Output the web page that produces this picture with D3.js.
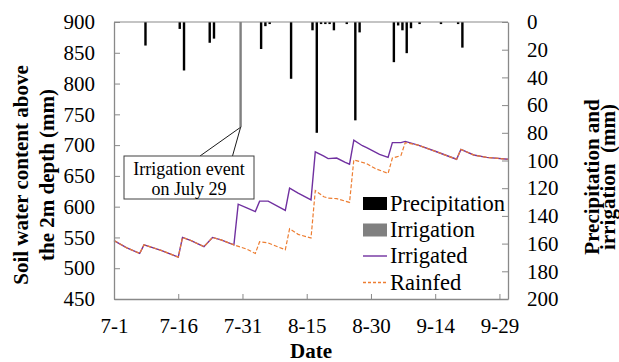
<!DOCTYPE html>
<html>
<head>
<meta charset="utf-8">
<script src="https://cdn.jsdelivr.net/npm/d3@7"></script>
<style>
  body { margin: 0; background: #fff; }
  svg { display: block; }
</style>
</head>
<body>
<div class="chart_area"></div>
<script>
var tickDays = [0, 15, 30, 45, 60, 75, 90];
var tickLabels = ["7-1", "7-16", "7-31", "8-15", "8-30", "9-14", "9-29"];

var precipDays = [7, 15, 16, 22, 23, 34, 35, 36, 41, 46, 47, 48, 49, 50, 51, 54, 56, 57, 65, 66, 67, 68, 69, 71, 76, 80, 81];
var precipMm   = [17, 5, 35, 15, 12, 19.5, 3, 1.5, 41, 6, 80, 1.5, 1.5, 1.5, 6, 1.5, 71, 7.5, 29, 2.5, 6, 22.5, 4.5, 1.5, 1.5, 1.5, 18.5];

var irrigDays = [29];
var irrigMm   = [76];

var irrigatedDays = [0, 3, 6, 7, 11, 15, 16, 18, 21, 23, 25, 28, 29, 31, 33, 34, 36, 40, 41, 43, 46, 47, 49, 50, 52, 54, 55, 56, 58, 59, 62, 64, 65, 67, 68, 71, 75, 80, 81, 84, 87, 92];
var irrigatedSwc  = [545, 533, 524, 538, 529, 518, 550, 545, 535, 550, 546, 538, 604, 598, 592, 609, 609, 594, 630, 622, 611, 689, 682, 678, 679, 672, 669, 708, 699, 696, 685, 680, 704, 704, 706, 700, 690, 677, 693, 684, 680, 677];

var rainfedDays = [0, 3, 6, 7, 11, 15, 16, 18, 21, 23, 25, 28, 31, 33, 34, 36, 40, 41, 43, 46, 47, 49, 50, 52, 55, 56, 59, 61, 64, 65, 66, 67, 68, 71, 75, 80, 81, 84, 87, 92];
var rainfedSwc  = [545, 533, 524, 538, 529, 518, 550, 545, 535, 550, 546, 538, 531, 524, 543, 541, 530, 564, 555, 549, 626, 616, 614, 613, 607, 676, 670, 662, 654, 679, 681, 683, 704, 700, 690, 677, 693, 684, 680, 677];

var legendLabels = ["Precipitation", "Irrigation", "Irrigated", "Rainfed"];

var W = 619, H = 362;
var margin = {top: 22, right: 111, bottom: 63, left: 114};
var axisColor = "#898989";
var serif = "Liberation Serif";

var svg = d3.select(".chart_area").append("svg")
    .attr("width", W)
    .attr("height", H);

var x = d3.scaleLinear().domain([0, 92]).range([margin.left, W - margin.right]);
var yL = d3.scaleLinear().domain([450, 900]).range([H - margin.bottom, margin.top]);
var yR = d3.scaleLinear().domain([0, 200]).range([margin.top, H - margin.bottom]);

// bars hanging from the top
var barW = 2.4;
svg.append("g").selectAll("rect")
    .data(precipDays.map(function(d, i) { return {day: d, v: precipMm[i]}; }))
    .enter().append("rect")
    .attr("x", function(d) { return x(d.day) + 0.3; })
    .attr("y", yR(0))
    .attr("width", barW)
    .attr("height", function(d) { return yR(d.v) - yR(0); })
    .attr("fill", "#000");

svg.append("g").selectAll("rect")
    .data(irrigDays.map(function(d, i) { return {day: d, v: irrigMm[i]}; }))
    .enter().append("rect")
    .attr("x", function(d) { return x(d.day) + 1.2; })
    .attr("y", yR(0))
    .attr("width", barW)
    .attr("height", function(d) { return yR(d.v) - yR(0); })
    .attr("fill", "#808080");

var line = d3.line()
    .x(function(d) { return x(d[0]); })
    .y(function(d) { return yL(d[1]); });

svg.append("path")
    .datum(irrigatedDays.map(function(d, i) { return [d, irrigatedSwc[i]]; }))
    .attr("fill", "none")
    .attr("stroke", "#7030A0")
    .attr("stroke-width", 1.4)
    .attr("d", line);

svg.append("path")
    .datum(rainfedDays.map(function(d, i) { return [d, rainfedSwc[i]]; }))
    .attr("fill", "none")
    .attr("stroke", "#ED7D31")
    .attr("stroke-width", 1.2)
    .attr("stroke-dasharray", "4,2")
    .attr("d", line);

// axes
var xAxis = svg.append("g")
    .attr("transform", "translate(0," + (H - margin.bottom) + ")")
    .call(d3.axisBottom(x).tickValues(tickDays)
        .tickFormat(function(d, i) { return tickLabels[i]; })
        .tickSize(-5).tickSizeOuter(0).tickPadding(19));

var yAxisL = svg.append("g")
    .attr("transform", "translate(" + margin.left + ",0)")
    .call(d3.axisLeft(yL).tickValues(d3.range(450, 901, 50))
        .tickSize(-6).tickSizeOuter(0).tickPadding(19));

var yAxisR = svg.append("g")
    .attr("transform", "translate(" + (W - margin.right) + ",0)")
    .call(d3.axisRight(yR).tickValues(d3.range(0, 201, 20))
        .tickSize(-6).tickSizeOuter(0).tickPadding(19));

svg.append("line")
    .attr("x1", margin.left).attr("x2", W - margin.right)
    .attr("y1", margin.top).attr("y2", margin.top)
    .attr("stroke", axisColor);

[xAxis, yAxisL, yAxisR].forEach(function(a) {
    a.select(".domain").attr("stroke", axisColor).attr("stroke-width", 1.3);
    a.selectAll(".tick line").attr("stroke", axisColor);
    a.selectAll("text")
        .attr("fill", "#000")
        .style("font-family", serif)
        .style("font-size", "21px");
});

// axis titles
function title(tx, ty, rot, str) {
    svg.append("text")
        .attr("transform", "translate(" + tx + "," + ty + ")" + (rot ? " rotate(-90)" : ""))
        .attr("text-anchor", "middle")
        .style("font-family", serif)
        .style("font-size", "21px")
        .style("font-weight", "bold")
        .style("white-space", "pre")
        .text(str);
}
title(28, 175, true, "Soil water content above");
title(54, 175, true, "the 2m depth (mm)");
title(599, 177, true, "Precipitation and");
title(615, 177, true, "irrigation  (mm)");
title(311, 358, false, "Date");

// legend
var leg = svg.append("g").attr("transform", "translate(363,0)");
var rowY = [203.5, 230, 256, 282.5];
leg.append("rect").attr("x", 0).attr("y", rowY[0] - 6.5).attr("width", 24).attr("height", 13).attr("fill", "#000");
leg.append("rect").attr("x", 0).attr("y", rowY[1] - 6.5).attr("width", 24).attr("height", 13).attr("fill", "#808080");
leg.append("line").attr("x1", 0).attr("x2", 24).attr("y1", rowY[2]).attr("y2", rowY[2])
    .attr("stroke", "#7030A0").attr("stroke-width", 1.4);
leg.append("line").attr("x1", 0).attr("x2", 24).attr("y1", rowY[3]).attr("y2", rowY[3])
    .attr("stroke", "#ED7D31").attr("stroke-width", 1.4).attr("stroke-dasharray", "3,2");
leg.selectAll("text.lbl")
    .data(legendLabels)
    .enter().append("text")
    .attr("class", "lbl")
    .attr("x", 27)
    .attr("y", function(d, i) { return rowY[i] + 7; })
    .style("font-family", serif)
    .style("font-size", "22.5px")
    .text(function(d) { return d; });

// callout
var tipX = x(irrigDays[0]) + 1.2 + barW / 2, tipY = yR(irrigMm[0]);
svg.append("polyline")
    .attr("points", [[200, 156], [tipX, tipY], [232.5, 156]].map(function(p) { return p.join(","); }).join(" "))
    .attr("fill", "none")
    .attr("stroke", "#000")
    .attr("stroke-width", 0.9);
svg.append("rect")
    .attr("x", 124).attr("y", 156)
    .attr("width", 130).attr("height", 43)
    .attr("fill", "#fff")
    .attr("stroke", "#404040")
    .attr("stroke-width", 1);
svg.append("text")
    .attr("x", 189).attr("y", 175)
    .attr("text-anchor", "middle")
    .style("font-family", serif)
    .style("font-size", "18px")
    .text("Irrigation event");
svg.append("text")
    .attr("x", 189).attr("y", 195)
    .attr("text-anchor", "middle")
    .style("font-family", serif)
    .style("font-size", "18px")
    .text("on July 29");
</script>
</body>
</html>
